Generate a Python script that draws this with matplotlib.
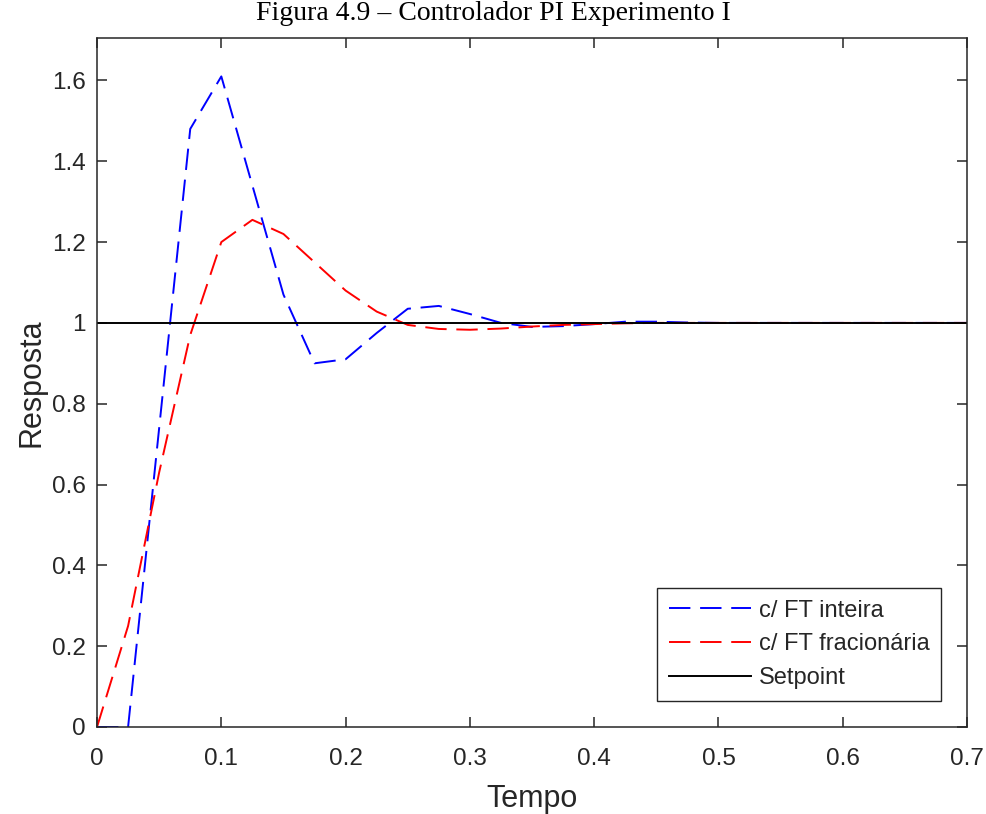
import matplotlib
import numpy as np

matplotlib.use("Agg")
import matplotlib.pyplot as plt


# time samples (s) and responses
tempo = [0.0, 0.025, 0.05, 0.075, 0.1, 0.125, 0.15, 0.175, 0.2, 0.225, 0.25,
         0.275, 0.3, 0.325, 0.35, 0.375, 0.4, 0.425, 0.45, 0.475, 0.5,
         0.525, 0.55, 0.575, 0.6, 0.625, 0.65, 0.675, 0.7]
ft_inteira = [0.0, 0.0, 0.74, 1.48, 1.61, 1.34, 1.07, 0.90, 0.91, 0.975, 1.035,
              1.042, 1.022, 1.0, 0.99, 0.992, 0.997, 1.003, 1.003, 1.001, 1.0,
              1.0, 1.0, 1.0, 1.0, 1.0, 1.0, 1.0, 1.0]
ft_fracionaria = [0.0, 0.25, 0.63, 0.97, 1.20, 1.255, 1.22, 1.15, 1.08, 1.028, 0.995,
                  0.985, 0.983, 0.986, 0.991, 0.995, 0.997, 0.999, 1.0, 1.0, 1.0,
                  1.0, 1.0, 1.0, 1.0, 1.0, 1.0, 1.0, 1.0]
setpoint = 1.0

x_ticks = [0, 0.1, 0.2, 0.3, 0.4, 0.5, 0.6, 0.7]
x_labels = ["0", "0.1", "0.2", "0.3", "0.4", "0.5", "0.6", "0.7"]
y_ticks = [0, 0.2, 0.4, 0.6, 0.8, 1.0, 1.2, 1.4, 1.6]
y_labels = ["0", "0.2", "0.4", "0.6", "0.8", "1", "1.2", "1.4", "1.6"]

GRAY = "#262626"


def main():
    plt.rcParams["font.family"] = ["Liberation Sans", "DejaVu Sans"]

    fig = plt.figure(figsize=(9.87, 8.14), dpi=100)
    ax = fig.add_axes([0.0983, 0.1069, 0.8815, 0.8464])

    t = np.array(tempo)
    ax.plot(t, ft_inteira, color="#0000ff", linewidth=1.4, dashes=(11, 5), label="c/ FT inteira")
    ax.plot(t, ft_fracionaria, color="#ff0000", linewidth=1.4, dashes=(11, 5), label="c/ FT fracionária")
    ax.plot([t[0], t[-1]], [setpoint, setpoint], color="black", linewidth=1.4, label="Setpoint")

    ax.set_xlim(0, 0.7)
    ax.set_ylim(0, 1.705)
    ax.set_xticks(x_ticks)
    ax.set_xticklabels(x_labels)
    ax.set_yticks(y_ticks)
    ax.set_yticklabels(y_labels)
    ax.tick_params(direction="in", length=7, width=1.1, colors=GRAY, labelsize=17.5,
                   top=True, right=True)
    ax.tick_params(axis="x", pad=15)
    ax.tick_params(axis="y", pad=8)
    for s in ax.spines.values():
        s.set_color(GRAY)
        s.set_linewidth(1.1)

    ax.set_xlabel("Tempo", fontsize=22, color=GRAY, labelpad=10)
    ax.set_ylabel("Resposta", fontsize=22, color=GRAY, labelpad=4)

    leg = ax.legend(loc="lower right", fontsize=17, handlelength=3.5, handletextpad=0.3,
                    borderaxespad=1.1, borderpad=0.5, fancybox=False, framealpha=1,
                    labelspacing=0.5)
    leg.get_frame().set_edgecolor(GRAY)
    leg.get_frame().set_linewidth(1.0)
    for txt in leg.get_texts():
        txt.set_color(GRAY)

    fig.text(0.5, 0.984, "Figura 4.9 – Controlador PI Experimento I", ha="center", va="center",
             fontsize=20, family=["Liberation Serif", "DejaVu Serif"])

    fig.savefig("out.png", dpi=100)
    plt.close(fig)


if __name__ == "__main__":
    main()
